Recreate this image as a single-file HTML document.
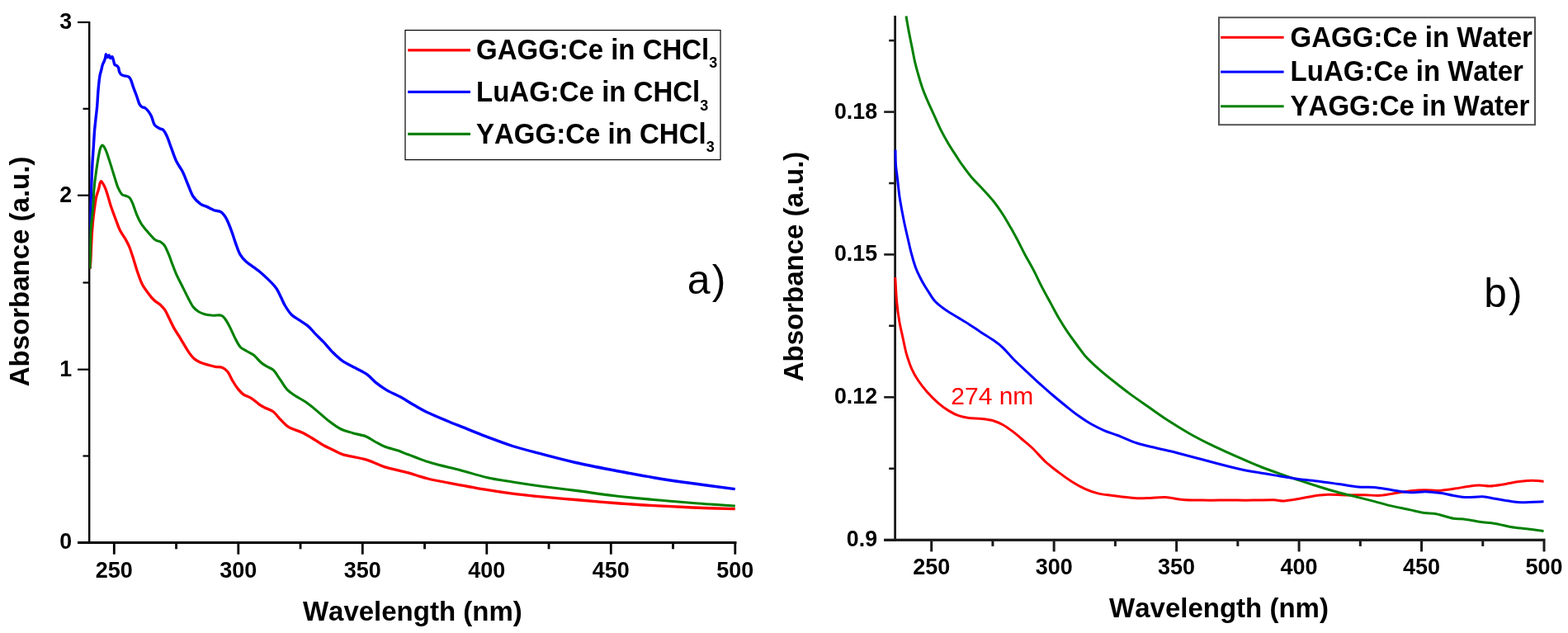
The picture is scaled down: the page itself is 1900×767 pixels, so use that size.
<!DOCTYPE html>
<html lang="en"><head><meta charset="utf-8"><title>Absorbance spectra</title>
<style>
html,body{margin:0;padding:0;background:#fff;}
body{width:1900px;height:767px;overflow:hidden;}
svg{display:block;}
text{font-family:"Liberation Sans",Arial,Helvetica,sans-serif;font-kerning:none;}
.b{font-weight:bold;}
.tk{font-weight:bold;font-size:27px;}
.ax{font-weight:bold;font-size:33px;}
.lg{font-weight:bold;font-size:33px;}
.c{fill:none;stroke-linejoin:round;stroke-linecap:butt;}
</style></head><body>
<svg width="1900" height="767" viewBox="0 0 1900 767">
<rect x="0" y="0" width="1900" height="767" fill="#ffffff"/>
<g id="panel-a">
<g fill="#000">
<rect x="107" y="26" width="2.4" height="633"/>
<rect x="94" y="656" width="798.5" height="3"/>
<rect x="94" y="656.3" width="13.5" height="2.2"/>
<rect x="100.5" y="551.4" width="7" height="2.2"/>
<rect x="94" y="446.6" width="13.5" height="2.2"/>
<rect x="100.5" y="341.4" width="7" height="2.2"/>
<rect x="94" y="235.6" width="13.5" height="2.2"/>
<rect x="100.5" y="130.7" width="7" height="2.2"/>
<rect x="94" y="25.9" width="13.5" height="2.2"/>
<rect x="136.9" y="658.5" width="2.8" height="13.2"/>
<rect x="212.15" y="658.5" width="2.8" height="6.8"/>
<rect x="287.4" y="658.5" width="2.8" height="13.2"/>
<rect x="362.65" y="658.5" width="2.8" height="6.8"/>
<rect x="437.9" y="658.5" width="2.8" height="13.2"/>
<rect x="513.15" y="658.5" width="2.8" height="6.8"/>
<rect x="588.4" y="658.5" width="2.8" height="13.2"/>
<rect x="663.65" y="658.5" width="2.8" height="6.8"/>
<rect x="738.9" y="658.5" width="2.8" height="13.2"/>
<rect x="814.15" y="658.5" width="2.8" height="6.8"/>
<rect x="889.4" y="658.5" width="2.8" height="13.2"/>
</g>
<clipPath id="clipA"><rect x="108.2" y="0" width="800" height="700"/></clipPath>
<g class="c" stroke-width="3.2" clip-path="url(#clipA)">
<path d="M108.9 325.5C109.0 321.2 109.1 308.9 109.2 300.0C109.3 291.1 109.4 280.3 109.5 272.0C109.6 263.7 109.8 256.0 109.9 250.0C110.1 244.0 110.2 240.7 110.4 236.0C110.6 231.3 110.6 228.5 110.9 222.0C111.2 215.5 111.6 204.3 112.0 197.0C112.4 189.7 112.9 184.3 113.3 178.0C113.7 171.7 114.1 164.3 114.5 159.0C114.9 153.7 115.3 151.2 115.8 146.1C116.3 141.0 117.2 134.5 117.7 128.4C118.2 122.3 118.5 115.3 119.0 109.4C119.5 103.5 120.2 96.9 120.8 92.9C121.4 88.9 122.0 87.9 122.6 85.5C123.2 83.1 123.6 80.5 124.2 78.7C124.8 76.9 125.5 75.9 126.1 74.5C126.7 73.1 127.2 71.8 127.6 70.3C128.0 68.8 128.0 65.7 128.4 65.6C128.9 65.5 129.7 69.3 130.3 69.5C130.9 69.7 131.5 66.7 132.1 66.9C132.7 67.1 133.2 70.3 133.9 70.6C134.6 70.9 135.4 68.3 136.0 68.8C136.6 69.3 137.1 71.8 137.6 73.4C138.1 75.0 138.2 77.2 138.9 78.2C139.6 79.2 141.0 79.0 141.8 79.7C142.6 80.4 143.2 81.2 143.7 82.4C144.1 83.6 144.0 85.3 144.5 86.6C145.0 87.9 145.5 89.4 146.6 90.3C147.7 91.2 149.3 91.4 150.8 91.8C152.3 92.2 154.3 92.2 155.5 92.9C156.7 93.6 157.1 93.7 158.2 96.0C159.3 98.3 160.7 103.4 162.0 106.9C163.3 110.4 164.7 113.8 165.8 117.0C167.0 120.2 167.9 123.8 168.9 125.9C169.9 128.0 170.9 128.9 172.1 129.7C173.3 130.5 174.6 130.1 175.9 130.9C177.2 131.7 178.4 133.0 179.7 134.7C181.0 136.4 182.2 138.2 183.5 141.0C184.8 143.8 185.6 148.9 187.3 151.4C189.0 153.9 191.8 154.8 193.6 155.8C195.4 156.9 196.5 156.1 198.0 157.7C199.5 159.3 200.8 161.7 202.4 165.3C204.0 168.9 205.6 174.1 207.5 179.2C209.4 184.2 211.5 190.8 213.8 195.6C216.1 200.4 219.1 203.7 221.4 208.3C223.7 213.0 225.6 218.6 227.7 223.5C229.8 228.4 231.5 234.1 234.0 238.0C236.5 241.9 240.0 244.9 242.9 247.1C245.8 249.2 249.0 249.6 251.7 250.9C254.4 252.2 256.6 253.6 259.3 254.7C262.1 255.8 265.7 255.4 268.2 257.2C270.7 259.0 272.4 261.5 274.5 265.4C276.6 269.3 278.9 275.5 280.8 280.6C282.7 285.7 284.2 291.2 285.9 295.8C287.6 300.4 288.9 304.8 291.0 308.4C293.1 312.0 294.6 313.9 298.5 317.3C302.4 320.7 309.5 325.0 314.4 329.0C319.3 333.0 324.3 337.9 327.8 341.4C331.3 344.9 333.3 347.0 335.4 350.2C337.5 353.4 338.8 356.9 340.5 360.3C342.2 363.7 343.4 367.0 345.5 370.5C347.6 374.0 350.2 378.2 353.1 381.2C356.1 384.1 359.8 385.9 363.2 388.2C366.6 390.5 370.1 392.4 373.3 395.1C376.5 397.8 379.0 401.3 382.2 404.6C385.4 407.9 388.9 411.1 392.3 414.7C395.7 418.3 398.7 422.4 402.4 426.1C406.1 429.8 410.0 433.8 414.7 437.1C419.4 440.4 425.5 443.0 430.5 445.8C435.5 448.6 440.5 450.7 444.7 453.7C448.9 456.7 451.9 460.8 455.8 463.9C459.8 467.0 463.4 469.7 468.4 472.6C473.4 475.5 480.3 478.3 485.8 481.3C491.3 484.3 496.3 487.8 501.6 490.8C506.9 493.8 510.8 496.4 517.4 499.5C524.0 502.6 533.1 506.4 541.0 509.7C548.9 513.0 556.8 516.0 564.7 519.2C572.6 522.4 579.0 525.2 588.4 528.7C597.8 532.2 610.4 537.1 621.1 540.5C631.8 543.9 639.9 545.9 652.6 549.2C665.3 552.5 682.0 557.0 697.4 560.5C712.8 564.0 728.9 567.0 744.7 570.0C760.5 573.0 776.3 576.1 792.1 578.7C807.9 581.3 823.0 583.5 839.5 585.8C856.0 588.1 882.2 591.5 890.8 592.6" stroke="#0000ff" stroke-width="3.4"/>
<path d="M108.9 325.5C109.0 324.2 109.4 322.2 109.7 318.0C110.0 313.8 110.2 305.5 110.5 300.0C110.8 294.5 111.0 290.2 111.3 285.0C111.6 279.8 112.1 273.2 112.5 269.0C112.9 264.8 113.1 263.2 113.5 260.0C113.9 256.8 114.3 253.3 114.8 250.0C115.3 246.7 115.9 242.7 116.4 240.0C116.9 237.3 117.5 235.8 118.0 234.0C118.5 232.2 119.1 230.9 119.6 229.0C120.1 227.1 120.5 224.1 121.0 222.5C121.5 220.9 122.0 219.6 122.6 219.6C123.2 219.6 123.9 221.0 124.8 222.5C125.7 224.0 126.9 226.2 127.8 228.5C128.7 230.8 129.2 232.6 130.3 236.0C131.4 239.4 132.4 243.9 134.1 249.0C135.8 254.1 138.6 261.6 140.5 266.7C142.4 271.8 143.6 275.5 145.5 279.3C147.4 283.1 149.9 286.0 151.8 289.4C153.7 292.8 155.2 295.3 156.9 299.5C158.6 303.7 160.4 309.8 162.0 314.7C163.6 319.6 164.7 324.1 166.4 329.0C168.1 333.9 169.9 339.6 172.1 344.0C174.3 348.4 177.2 352.0 179.7 355.4C182.2 358.8 185.0 362.1 187.3 364.3C189.6 366.5 191.5 366.8 193.6 368.7C195.7 370.6 198.0 372.8 199.9 375.6C201.8 378.5 203.1 382.0 205.0 385.8C206.9 389.6 209.1 394.4 211.3 398.4C213.6 402.4 215.8 405.3 218.5 409.8C221.2 414.3 225.0 421.1 227.8 425.3C230.6 429.5 232.9 432.5 235.4 434.8C237.9 437.1 240.1 437.9 243.0 439.2C245.9 440.5 250.2 441.5 253.1 442.4C256.1 443.2 257.9 443.8 260.7 444.3C263.4 444.8 267.1 444.4 269.6 445.5C272.1 446.6 273.8 447.9 275.9 450.6C278.0 453.4 280.1 458.5 282.2 462.0C284.3 465.5 286.4 468.8 288.5 471.4C290.6 474.0 292.1 475.9 294.8 477.8C297.6 479.7 301.8 480.8 305.0 482.8C308.2 484.8 311.1 487.9 313.8 489.8C316.5 491.7 318.5 492.7 321.4 494.2C324.3 495.7 327.8 496.2 331.0 498.7C334.2 501.2 337.3 505.9 340.5 509.0C343.7 512.1 345.8 515.1 350.0 517.6C354.2 520.1 361.1 521.8 365.8 524.0C370.5 526.2 374.2 528.5 378.4 531.0C382.6 533.5 386.5 536.5 391.0 539.0C395.5 541.5 401.2 544.0 405.3 546.0C409.4 548.0 409.3 548.9 415.8 550.8C422.3 552.6 435.8 554.6 444.2 557.1C452.6 559.6 457.9 563.2 466.3 565.8C474.7 568.4 486.0 570.5 494.7 572.9C503.4 575.3 509.2 577.8 518.4 580.0C527.6 582.2 538.1 584.1 550.0 586.3C561.9 588.5 577.6 591.4 589.5 593.4C601.4 595.4 610.6 596.8 621.1 598.2C631.6 599.6 639.9 600.4 652.6 601.6C665.3 602.8 682.0 604.2 697.4 605.5C712.8 606.8 728.9 608.3 744.7 609.5C760.5 610.7 776.3 611.7 792.1 612.6C807.9 613.5 823.0 614.3 839.5 615.0C856.0 615.7 882.2 616.4 890.8 616.7" stroke="#ff0000" stroke-width="3.3"/>
<path d="M108.9 325.5C109.0 323.1 109.2 315.9 109.3 311.0C109.4 306.1 109.5 301.0 109.6 296.0C109.7 291.0 109.7 285.3 109.9 281.0C110.1 276.7 110.5 273.3 110.8 270.0C111.1 266.7 111.5 264.0 111.8 261.0C112.1 258.0 112.3 255.5 112.6 252.0C112.9 248.5 113.2 243.9 113.4 240.0C113.6 236.1 113.5 233.6 114.0 228.5C114.5 223.4 115.4 215.8 116.3 209.5C117.2 203.2 118.3 195.5 119.2 190.6C120.1 185.7 120.7 182.4 121.5 180.0C122.3 177.6 123.2 176.2 124.0 176.0C124.8 175.8 125.7 177.1 126.5 178.5C127.3 179.9 127.8 180.8 129.1 184.3C130.4 187.8 132.4 194.1 134.1 199.4C135.8 204.7 137.7 211.2 139.2 215.9C140.7 220.6 141.5 224.0 143.0 227.3C144.5 230.6 146.5 234.1 148.0 235.7C149.5 237.3 150.3 236.4 151.8 237.0C153.3 237.6 155.4 237.9 156.9 239.5C158.4 241.1 159.2 242.9 160.7 246.4C162.2 249.9 164.1 256.3 165.8 260.3C167.5 264.3 169.1 267.6 170.8 270.5C172.5 273.4 173.2 274.1 175.9 277.4C178.7 280.7 184.2 287.5 187.3 290.1C190.5 292.7 192.7 291.8 194.8 293.2C196.9 294.6 198.2 295.6 199.9 298.3C201.6 301.1 203.5 306.1 205.0 309.7C206.5 313.3 207.3 316.2 208.8 320.0C210.3 323.8 211.9 328.4 213.8 332.6C215.7 336.8 217.8 340.7 220.1 345.3C222.4 349.9 225.4 356.1 227.7 360.5C230.0 364.9 231.9 369.0 234.0 371.8C236.1 374.6 238.1 376.0 240.4 377.5C242.7 379.0 245.1 379.9 248.0 380.7C250.9 381.5 254.7 381.9 258.1 382.2C261.5 382.4 265.7 381.4 268.2 382.2C270.7 383.0 271.5 384.7 273.2 387.0C274.9 389.3 276.4 392.3 278.3 395.9C280.2 399.5 282.2 404.6 284.3 408.6C286.4 412.7 288.6 417.4 291.0 420.2C293.4 423.0 295.9 423.6 298.6 425.3C301.4 427.0 304.6 428.0 307.5 430.3C310.4 432.6 313.6 436.9 316.3 439.2C319.0 441.5 321.4 442.7 323.9 444.3C326.4 445.9 329.0 446.2 331.5 448.7C334.0 451.2 336.4 455.5 339.1 459.4C341.9 463.3 344.8 468.7 348.0 472.1C351.2 475.5 354.3 477.2 358.1 479.7C361.9 482.2 366.5 484.4 370.7 487.3C374.9 490.2 378.5 493.2 383.2 497.1C387.9 501.0 394.0 506.7 399.0 510.5C404.0 514.3 408.5 517.6 413.2 520.0C417.9 522.4 422.4 523.2 427.4 524.7C432.4 526.2 438.7 527.0 443.2 528.7C447.7 530.4 450.3 532.9 454.2 535.0C458.1 537.1 461.8 539.5 466.5 541.3C471.2 543.1 477.9 544.4 482.6 546.0C487.3 547.6 487.9 548.3 494.7 550.8C501.5 553.3 512.7 557.9 523.2 561.0C533.7 564.1 546.9 566.8 557.9 569.7C568.9 572.6 579.0 576.0 589.5 578.4C600.0 580.8 610.6 582.3 621.1 584.0C631.6 585.7 639.9 587.0 652.6 588.7C665.3 590.4 682.0 592.4 697.4 594.4C712.8 596.4 728.9 598.9 744.7 600.8C760.5 602.6 776.3 604.0 792.1 605.5C807.9 607.0 823.0 608.2 839.5 609.5C856.0 610.8 882.2 612.4 890.8 613.0" stroke="#008000" stroke-width="3.1"/>
</g>
<g class="tk" fill="#000">
<text transform="translate(87 665.4) scale(0.99 1.035)" text-anchor="end">0</text>
<text transform="translate(87 455.7) scale(0.99 1.035)" text-anchor="end">1</text>
<text transform="translate(87 244.7) scale(0.99 1.035)" text-anchor="end">2</text>
<text transform="translate(87 35) scale(0.99 1.035)" text-anchor="end">3</text>
<text x="138.3" y="700.3" text-anchor="middle">250</text>
<text x="288.8" y="700.3" text-anchor="middle">300</text>
<text x="439.3" y="700.3" text-anchor="middle">350</text>
<text x="589.8" y="700.3" text-anchor="middle">400</text>
<text x="740.3" y="700.3" text-anchor="middle">450</text>
<text x="890.8" y="700.3" text-anchor="middle">500</text>
</g>
<text class="ax" x="499.8" y="752" text-anchor="middle">Wavelength (nm)</text>
<text transform="translate(34.8 328.9) rotate(-90) scale(1 1.03)" class="ax" text-anchor="middle">Absorbance (a.u.)</text>
<rect x="491" y="36.6" width="382" height="157" fill="#fff" stroke="#000" stroke-width="1.2"/>
<rect x="494.2" y="59.2" width="75.8" height="3.2" fill="#ff0000"/>
<text transform="translate(577 71.8) scale(1 1.05)" class="lg">GAGG:Ce in CHCl<tspan dy="10" font-size="18">3</tspan></text>
<rect x="494.2" y="109.8" width="75.8" height="3.2" fill="#0000ff"/>
<text transform="translate(577 123) scale(1 1.05)" class="lg">LuAG:Ce in CHCl<tspan dy="10" font-size="18">3</tspan></text>
<rect x="494.2" y="160.8" width="75.8" height="3.2" fill="#008000"/>
<text transform="translate(577 173.7) scale(1 1.05)" class="lg">YAGG:Ce in CHCl<tspan dy="10" font-size="18">3</tspan></text>
<text x="832.7" y="355.5" font-size="50">a<tspan dx="2.2">)</tspan></text>
</g>
<g id="panel-b">
<g fill="#1a1a1a">
<rect x="1083.2" y="19" width="2.8" height="636.9"/>
<rect x="1071.2" y="652.7" width="801.3" height="3.2"/>
<rect x="1077.2" y="47.8" width="6.5" height="2.6"/>
<rect x="1071.2" y="134.3" width="12.5" height="2.6"/>
<rect x="1077.2" y="220.7" width="6.5" height="2.6"/>
<rect x="1071.2" y="307.1" width="12.5" height="2.6"/>
<rect x="1077.2" y="393.5" width="6.5" height="2.6"/>
<rect x="1071.2" y="480" width="12.5" height="2.6"/>
<rect x="1077.2" y="566.5" width="6.5" height="2.6"/>
<rect x="1071.2" y="653" width="12.5" height="2.6"/>
<rect x="1127.2" y="655.4" width="3" height="13"/>
<rect x="1201.43" y="655.4" width="3" height="6.5"/>
<rect x="1275.66" y="655.4" width="3" height="13"/>
<rect x="1349.89" y="655.4" width="3" height="6.5"/>
<rect x="1424.12" y="655.4" width="3" height="13"/>
<rect x="1498.35" y="655.4" width="3" height="6.5"/>
<rect x="1572.58" y="655.4" width="3" height="13"/>
<rect x="1646.81" y="655.4" width="3" height="6.5"/>
<rect x="1721.04" y="655.4" width="3" height="13"/>
<rect x="1795.27" y="655.4" width="3" height="6.5"/>
<rect x="1869.5" y="655.4" width="3" height="13"/>
</g>
<g class="c" stroke-width="3">
<path d="M1084.8 336.0C1085.1 340.9 1085.8 356.5 1086.6 365.3C1087.4 374.1 1088.5 381.9 1089.7 389.0C1090.9 396.1 1092.6 402.6 1093.7 407.9C1094.8 413.2 1095.6 417.1 1096.5 421.0C1097.4 424.9 1097.8 427.2 1099.2 431.5C1100.6 435.8 1102.5 441.9 1104.7 446.8C1106.9 451.7 1109.4 456.2 1112.6 461.0C1115.8 465.8 1119.8 470.8 1123.7 475.3C1127.7 479.8 1132.1 484.2 1136.3 487.9C1140.5 491.6 1144.8 494.8 1149.0 497.4C1153.2 500.0 1157.4 502.2 1161.6 503.7C1165.8 505.2 1169.5 505.9 1174.2 506.5C1178.9 507.1 1185.0 507.0 1190.0 507.6C1195.0 508.2 1200.0 508.8 1204.2 510.0C1208.4 511.2 1211.3 512.5 1215.3 514.7C1219.2 516.9 1224.3 520.7 1227.9 523.4C1231.5 526.1 1233.2 527.7 1237.0 531.0C1240.8 534.3 1245.9 538.2 1251.0 543.0C1256.1 547.8 1262.0 555.1 1267.4 560.0C1272.8 564.9 1277.9 568.6 1283.2 572.6C1288.5 576.6 1293.8 580.4 1299.0 583.7C1304.2 587.0 1309.5 590.0 1314.7 592.4C1320.0 594.8 1325.2 596.6 1330.5 597.9C1335.8 599.2 1341.0 599.6 1346.3 600.3C1351.6 601.0 1356.8 601.7 1362.1 602.3C1367.4 602.9 1372.6 603.5 1377.9 603.7C1383.2 603.9 1387.9 603.6 1393.7 603.4C1399.5 603.2 1406.0 602.2 1412.6 602.6C1419.2 603.0 1425.8 604.9 1433.2 605.5C1440.6 606.1 1447.6 606.0 1456.8 606.1C1466.0 606.2 1478.0 606.1 1488.4 606.1C1498.8 606.1 1510.1 606.2 1519.2 606.1C1528.3 606.0 1537.1 605.7 1543.2 605.8C1549.3 605.9 1550.5 607.2 1555.8 606.9C1561.0 606.6 1568.4 605.2 1574.7 604.2C1581.0 603.2 1587.9 601.5 1593.7 600.7C1599.5 599.9 1603.5 599.3 1609.5 599.2C1615.5 599.1 1622.6 599.8 1630.0 599.9C1637.4 600.0 1646.6 599.7 1653.7 599.8C1660.8 599.9 1666.4 600.7 1672.6 600.3C1678.8 599.9 1684.8 598.5 1691.0 597.6C1697.2 596.7 1704.0 595.4 1709.8 594.7C1715.6 594.1 1720.4 593.8 1726.0 593.7C1731.6 593.7 1737.4 594.7 1743.5 594.4C1749.6 594.1 1756.4 593.0 1762.5 592.1C1768.6 591.2 1775.0 589.9 1780.1 589.2C1785.1 588.5 1788.6 588.1 1792.8 588.1C1797.0 588.1 1801.2 589.2 1805.4 589.1C1809.6 589.0 1812.7 588.5 1818.0 587.6C1823.3 586.8 1831.3 584.9 1837.0 584.0C1842.7 583.1 1848.0 582.8 1852.2 582.5C1856.4 582.2 1859.2 582.4 1862.3 582.5C1865.3 582.6 1869.1 583.2 1870.5 583.4" stroke="#ff0000"/>
<path d="M1098.0 19.6C1098.5 22.7 1100.0 31.7 1101.2 37.9C1102.4 44.1 1103.7 50.6 1105.0 56.9C1106.3 63.2 1107.5 70.4 1108.8 75.9C1110.1 81.4 1111.2 85.0 1112.6 90.0C1114.0 95.0 1115.6 100.5 1117.4 105.8C1119.2 111.1 1121.3 116.1 1123.7 121.6C1126.1 127.1 1129.0 133.2 1131.6 139.0C1134.2 144.8 1136.6 150.5 1139.5 156.3C1142.4 162.1 1145.6 167.9 1149.0 173.7C1152.4 179.5 1157.2 186.6 1160.0 191.0C1162.8 195.4 1163.2 196.1 1166.0 200.0C1168.8 203.9 1172.7 209.5 1177.0 214.5C1181.3 219.5 1187.1 225.1 1191.6 230.0C1196.1 234.9 1200.2 239.2 1204.2 244.2C1208.2 249.2 1211.9 254.7 1215.3 260.0C1218.7 265.3 1221.5 270.3 1224.7 275.8C1227.9 281.3 1231.2 287.6 1234.2 293.2C1237.2 298.8 1239.3 303.6 1242.5 309.5C1245.7 315.4 1249.9 322.5 1253.2 328.9C1256.5 335.3 1259.2 341.3 1262.6 347.9C1266.0 354.5 1270.3 362.1 1273.7 368.4C1277.1 374.7 1279.8 380.0 1283.2 385.8C1286.6 391.6 1290.5 397.8 1294.2 403.2C1297.9 408.6 1301.9 413.9 1305.3 418.5C1308.7 423.1 1311.3 427.1 1314.7 431.0C1318.1 434.9 1321.8 438.4 1325.8 442.1C1329.8 445.8 1333.7 449.2 1338.4 453.2C1343.1 457.1 1348.9 461.7 1354.2 465.8C1359.5 469.9 1363.4 473.1 1370.0 477.9C1376.6 482.7 1385.8 489.0 1393.7 494.5C1401.6 500.0 1409.5 505.7 1417.4 510.8C1425.3 515.9 1433.2 520.7 1441.1 525.2C1449.0 529.7 1456.8 533.7 1464.7 537.6C1472.6 541.5 1481.9 545.6 1488.4 548.6C1494.9 551.6 1497.2 552.6 1503.7 555.4C1510.2 558.2 1519.5 562.4 1527.4 565.5C1535.3 568.6 1543.2 571.4 1551.1 574.2C1559.0 577.0 1566.8 579.5 1574.7 582.1C1582.6 584.7 1590.5 587.2 1598.4 589.7C1606.3 592.2 1614.2 594.6 1622.1 596.8C1630.0 598.9 1638.7 600.8 1645.8 602.6C1652.9 604.4 1658.1 605.7 1664.7 607.4C1671.3 609.1 1677.9 611.1 1685.3 612.9C1692.7 614.6 1702.2 616.4 1709.0 617.9C1715.8 619.4 1721.0 620.8 1726.3 621.6C1731.5 622.4 1734.7 621.7 1740.5 622.8C1746.3 623.9 1755.5 627.2 1761.1 628.2C1766.6 629.2 1768.5 628.2 1773.8 628.9C1779.1 629.6 1786.5 631.4 1792.8 632.3C1799.1 633.2 1805.4 633.4 1811.7 634.4C1818.0 635.4 1824.4 637.3 1830.7 638.4C1837.0 639.5 1843.1 639.9 1849.7 640.7C1856.3 641.6 1867.0 643.0 1870.5 643.5" stroke="#008000"/>
<path d="M1085.0 181.5C1085.1 184.6 1085.1 194.3 1085.5 200.0C1085.9 205.7 1086.7 209.8 1087.4 215.8C1088.1 221.9 1088.8 229.7 1089.7 236.3C1090.6 242.9 1091.9 249.5 1092.9 255.3C1094.0 261.1 1094.8 265.3 1096.0 271.0C1097.2 276.7 1098.8 283.3 1100.2 289.5C1101.6 295.7 1103.0 302.2 1104.6 308.0C1106.1 313.8 1107.8 319.6 1109.5 324.3C1111.2 329.0 1113.0 332.5 1114.8 336.0C1116.5 339.5 1118.2 342.5 1120.0 345.5C1121.8 348.5 1123.1 350.6 1125.3 353.9C1127.5 357.2 1129.8 361.7 1133.2 365.3C1136.6 368.9 1141.3 372.4 1145.8 375.5C1150.3 378.6 1155.3 381.3 1160.0 384.2C1164.7 387.1 1169.5 389.9 1174.2 392.9C1178.9 395.9 1183.4 399.1 1188.4 402.4C1193.4 405.7 1199.7 409.5 1204.2 412.6C1208.7 415.8 1211.3 417.6 1215.3 421.3C1219.2 425.0 1223.2 430.2 1227.9 435.0C1232.6 439.8 1238.4 445.1 1243.7 450.0C1249.0 454.9 1254.2 459.9 1259.5 464.7C1264.8 469.4 1270.0 474.0 1275.3 478.5C1280.5 483.0 1285.8 487.3 1291.0 491.5C1296.2 495.7 1301.5 500.1 1306.8 503.8C1312.1 507.6 1317.3 511.0 1322.6 514.0C1327.9 517.0 1333.1 519.5 1338.4 521.8C1343.7 524.0 1347.6 525.0 1354.2 527.5C1360.8 530.0 1370.0 534.4 1377.9 537.0C1385.8 539.6 1393.7 541.1 1401.6 543.0C1409.5 544.9 1417.4 546.5 1425.3 548.5C1433.2 550.5 1441.1 552.6 1449.0 554.7C1456.9 556.8 1463.5 558.6 1472.6 561.0C1481.7 563.4 1494.6 566.8 1503.7 568.8C1512.8 570.8 1519.5 571.6 1527.4 573.0C1535.3 574.4 1543.2 575.6 1551.1 576.9C1559.0 578.2 1566.8 579.8 1574.7 580.8C1582.6 581.8 1590.5 582.2 1598.4 583.2C1606.3 584.2 1614.2 585.4 1622.1 586.5C1630.0 587.6 1638.7 589.3 1645.8 590.0C1652.9 590.7 1658.1 589.9 1664.7 590.5C1671.3 591.1 1678.7 592.5 1685.3 593.5C1691.9 594.5 1699.5 595.8 1704.2 596.3C1708.9 596.8 1709.9 596.9 1713.7 596.8C1717.5 596.7 1722.9 595.8 1727.0 595.8C1731.1 595.8 1734.8 596.4 1738.4 596.7C1742.0 597.0 1744.6 597.2 1748.4 597.8C1752.2 598.4 1756.3 599.6 1761.2 600.4C1766.1 601.2 1771.7 602.4 1777.6 602.6C1783.5 602.8 1790.9 601.4 1796.6 601.7C1802.3 602.0 1806.0 603.3 1811.7 604.3C1817.4 605.2 1825.4 606.7 1830.7 607.4C1836.0 608.1 1836.8 608.7 1843.4 608.7C1850.0 608.8 1866.0 607.9 1870.5 607.7" stroke="#0000ff"/>
</g>
<g class="tk" fill="#000">
<text transform="translate(1063 143.6) scale(0.99 1.035)" text-anchor="end">0.18</text>
<text transform="translate(1063 316.4) scale(0.99 1.035)" text-anchor="end">0.15</text>
<text transform="translate(1063 489.3) scale(0.99 1.035)" text-anchor="end">0.12</text>
<text transform="translate(1063 662.3) scale(0.99 1.035)" text-anchor="end">0.9</text>
<text x="1128.7" y="695.8" text-anchor="middle">250</text>
<text x="1277.16" y="695.8" text-anchor="middle">300</text>
<text x="1425.62" y="695.8" text-anchor="middle">350</text>
<text x="1574.08" y="695.8" text-anchor="middle">400</text>
<text x="1722.54" y="695.8" text-anchor="middle">450</text>
<text x="1871" y="695.8" text-anchor="middle">500</text>
</g>
<text class="ax" x="1477" y="748.4" text-anchor="middle">Wavelength (nm)</text>
<text transform="translate(973.4 323) rotate(-90) scale(1 1.03)" class="ax" text-anchor="middle">Absorbance (a.u.)</text>
<rect x="1477" y="21.2" width="383" height="130" fill="#fff" stroke="#555" stroke-width="2"/>
<rect x="1479" y="43.8" width="76.6" height="3" fill="#ff0000"/>
<text transform="translate(1563.6 56.7) scale(1 1.05)" class="lg">GAGG:Ce in Water</text>
<rect x="1479" y="85.6" width="76.6" height="3" fill="#0000ff"/>
<text transform="translate(1563.6 98.4) scale(1 1.05)" class="lg">LuAG:Ce in Water</text>
<rect x="1479" y="127.3" width="76.6" height="3" fill="#008000"/>
<text transform="translate(1563.6 140.1) scale(1 1.05)" class="lg">YAGG:Ce in Water</text>
<text x="1152.3" y="490.2" font-size="30" fill="#ff0000">274 nm</text>
<text x="1798.2" y="372.3" font-size="49.5">b<tspan dx="2.2">)</tspan></text>
</g>
</svg>
</body></html>
